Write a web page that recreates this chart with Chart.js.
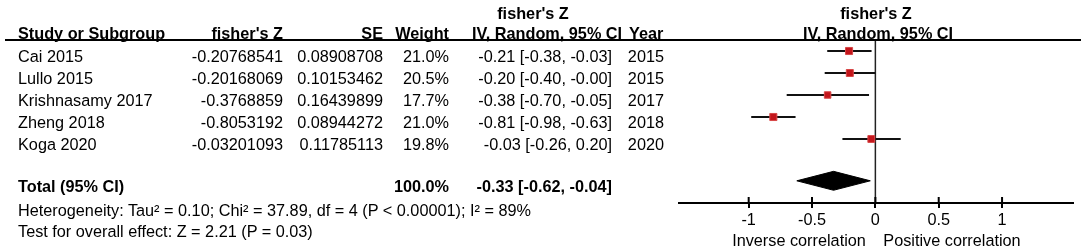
<!DOCTYPE html>
<html><head><meta charset="utf-8">
<script src="https://cdn.jsdelivr.net/npm/chart.js@4.4.1/dist/chart.umd.min.js"></script>
<style>
html,body{margin:0;padding:0;background:#fff;}
#wrap{position:relative;width:1084px;height:250px;overflow:hidden;font-family:"Liberation Sans",Arial,sans-serif;font-size:16.25px;color:#000;}
#wrap canvas{position:absolute;left:0;top:0;}
.t{position:absolute;line-height:20px;white-space:nowrap;}
.b{font-weight:bold;}
#hline{position:absolute;left:5px;top:39px;width:1076px;height:2px;background:#000;}
</style></head>
<body><div id="wrap"><canvas id="c" width="1084" height="250"></canvas><div id="hline"></div></div>
<script>
// ---- data ----
const studies  = ['Cai 2015', 'Lullo 2015', 'Krishnasamy 2017', 'Zheng 2018', 'Koga 2020'];
const fisherZ  = ['-0.20768541', '-0.20168069', '-0.3768859', '-0.8053192', '-0.03201093'];
const seValues = ['0.08908708', '0.10153462', '0.16439899', '0.08944272', '0.11785113'];
const weights  = [21.0, 20.5, 17.7, 21.0, 19.8];
const estimate = [-0.21, -0.20, -0.38, -0.81, -0.03];
const ciLow    = [-0.38, -0.40, -0.70, -0.98, -0.26];
const ciHigh   = [-0.03, -0.00, -0.05, -0.63, 0.20];
const years    = [2015, 2015, 2017, 2018, 2020];
const totalWeight = 100.0;
const totalEst  = -0.33;
const totalLow  = -0.62;
const totalHigh = -0.04;
const xTickValues = [-1, -0.5, 0, 0.5, 1];
const xTickLabels = ['-1', '-0.5', '0', '0.5', '1'];
const heterogeneityText = 'Heterogeneity: Tau\u00B2 = 0.10; Chi\u00B2 = 37.89, df = 4 (P < 0.00001); I\u00B2 = 89%';
const overallText = 'Test for overall effect: Z = 2.21 (P = 0.03)';
const effectTitle = "fisher's Z";
const methodTitle = 'IV, Random, 95% CI';
const leftLabel = 'Inverse correlation';
const rightLabel = 'Positive correlation';

// ---- helpers ----
const FONT = '"Liberation Sans", Arial, sans-serif';
const wrap = document.getElementById('wrap');
function fmt(v){ return ((v < 0 || Object.is(v, -0)) ? '-' : '') + Math.abs(v).toFixed(2); }
function ciText(e, l, h){ return fmt(e) + ' [' + fmt(l) + ', ' + fmt(h) + ']'; }
function addText(txt, x, cy, align, bold){
  const d = document.createElement('div');
  d.className = 't' + (bold ? ' b' : '');
  d.textContent = txt;
  d.style.top = (cy - 10) + 'px';
  if (align === 'left') { d.style.left = x + 'px'; }
  else if (align === 'right') { d.style.left = (x - 400) + 'px'; d.style.width = '400px'; d.style.textAlign = 'right'; }
  else { d.style.left = (x - 200) + 'px'; d.style.width = '400px'; d.style.textAlign = 'center'; }
  wrap.appendChild(d);
}

// ---- table text ----
addText(effectTitle, 533, 13, 'center', true);
addText(effectTitle, 876, 13, 'center', true);
addText('Study or Subgroup', 18, 33, 'left', true);
addText(effectTitle, 283, 33, 'right', true);
addText('SE', 383, 33, 'right', true);
addText('Weight', 449, 33, 'right', true);
addText(methodTitle, 547, 33, 'center', true);
addText('Year', 629, 33, 'left', true);
addText(methodTitle, 878, 33, 'center', true);
studies.forEach((s, i) => {
  const cy = 55.5 + 22 * i;
  addText(s, 18, cy, 'left', false);
  addText(fisherZ[i], 283, cy, 'right', false);
  addText(seValues[i], 383, cy, 'right', false);
  addText(weights[i].toFixed(1) + '%', 449, cy, 'right', false);
  addText(ciText(estimate[i], ciLow[i], ciHigh[i]), 612, cy, 'right', false);
  addText(String(years[i]), 664, cy, 'right', false);
});
addText('Total (95% CI)', 18, 186, 'left', true);
addText(totalWeight.toFixed(1) + '%', 449, 186, 'right', true);
addText(ciText(totalEst, totalLow, totalHigh), 612, 186, 'right', true);
addText(heterogeneityText, 18, 210, 'left', false);
addText(overallText, 18, 231, 'left', false);
addText(leftLabel, 799, 240, 'center', false);
addText(rightLabel, 952, 240, 'center', false);

// ---- chart ----
const totalRow = 5.9;
const diamondHalf = 0.43;
const datasets = [];
studies.forEach((s, i) => {
  datasets.push({
    type: 'line', data: [{x: ciLow[i], y: i}, {x: ciHigh[i], y: i}],
    borderColor: '#111', borderWidth: 2, pointRadius: 0, fill: false, order: 2
  });
});
datasets.push({
  type: 'scatter',
  data: studies.map((s, i) => ({x: parseFloat(fisherZ[i]), y: i})),
  pointStyle: 'rect',
  pointRadius: ctx => 5 * Math.sqrt(weights[ctx.dataIndex] / 21),
  pointHoverRadius: ctx => 5 * Math.sqrt(weights[ctx.dataIndex] / 21),
  backgroundColor: '#c3161c', borderColor: '#d84848', borderWidth: 1, order: 1
});
datasets.push({
  type: 'line',
  data: [{x: totalLow, y: totalRow}, {x: totalEst, y: totalRow - diamondHalf}, {x: totalHigh, y: totalRow},
         {x: totalEst, y: totalRow + diamondHalf}, {x: totalLow, y: totalRow}],
  borderColor: '#000', borderWidth: 1, backgroundColor: '#000', fill: 'shape', pointRadius: 0, tension: 0, order: 0
});

const decor = {
  id: 'decor',
  beforeDatasetsDraw(chart){
    const {ctx, scales: {x}, chartArea: a} = chart;
    const x0 = x.getPixelForValue(0);
    ctx.save(); ctx.strokeStyle = '#222'; ctx.lineWidth = 1.5;
    ctx.beginPath(); ctx.moveTo(x0, a.top); ctx.lineTo(x0, a.bottom); ctx.stroke(); ctx.restore();
  },
  afterDraw(chart){
    const {ctx, scales: {x}, chartArea: a} = chart;
    ctx.save(); ctx.strokeStyle = '#000'; ctx.lineWidth = 2;
    x.ticks.forEach(t => { const px = x.getPixelForValue(t.value);
      ctx.beginPath(); ctx.moveTo(px, a.bottom - 6); ctx.lineTo(px, a.bottom); ctx.stroke(); });
    ctx.restore();
  }
};

new Chart(document.getElementById('c'), {
  type: 'scatter',
  data: { datasets },
  options: {
    responsive: false, animation: false, devicePixelRatio: 1,
    layout: { padding: { left: 679, right: 11, top: 40, bottom: 0 } },
    plugins: { legend: { display: false }, tooltip: { enabled: false } },
    scales: {
      x: {
        type: 'linear', position: 'bottom', min: -1.55, max: 1.56,
        border: { display: true, color: '#000', width: 2 },
        grid: { display: true, drawOnChartArea: false, drawTicks: true, tickLength: 5, color: '#000', lineWidth: 2 },
        ticks: { color: '#000', padding: 3, font: { family: FONT, size: 16.25 },
                 callback: (v, i) => xTickLabels[i] },
        afterBuildTicks: scale => { scale.ticks = xTickValues.map(v => ({ value: v })); },
        afterFit: scale => { scale.height = 47; }
      },
      y: { type: 'linear', display: false, min: -0.5, max: 6.909, reverse: true }
    }
  },
  plugins: [decor]
});
</script>
</body></html>
